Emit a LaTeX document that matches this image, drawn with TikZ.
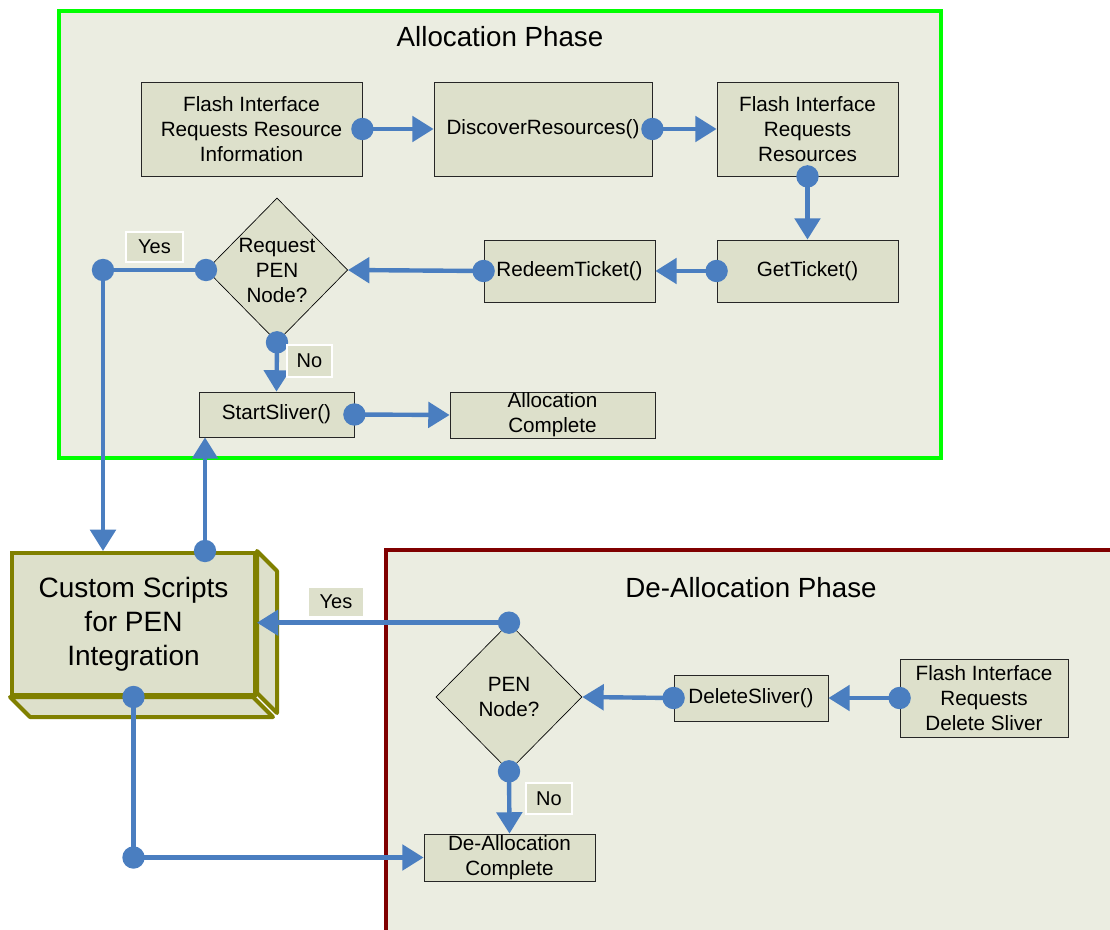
\documentclass[tikz,border=0pt]{standalone}
\usepackage{fontspec}
\setmainfont{Liberation Sans}
\usetikzlibrary{shapes.geometric,arrows.meta,calc}
\definecolor{linkblue}{RGB}{74,126,192}
\definecolor{panelfill}{RGB}{235,237,225}
\definecolor{boxfill}{RGB}{221,224,203}
\definecolor{greenedge}{RGB}{0,255,0}
\definecolor{rededge}{RGB}{128,0,0}
\definecolor{oliveedge}{RGB}{128,128,0}
\tikzset{
  boxnode/.style={draw=black!85, line width=0.6pt, fill=boxfill, align=center, inner sep=0pt,
    font=\fontsize{15.5}{18.75}\selectfont},
  diamnode/.style={diamond, draw=black, line width=0.5pt, fill=boxfill, align=center, inner sep=0pt,
    font=\fontsize{15.5}{18.75}\selectfont},
  lblnode/.style={fill=boxfill, draw=white, line width=0.8pt, inner sep=0pt,
    font=\fontsize{15}{18}\selectfont},
  conn/.style={draw=linkblue, line width=3.3pt, -{Triangle[length=16pt,width=19pt]}},
  plainconn/.style={draw=linkblue, line width=3.3pt},
  dotfill/.style={fill=linkblue},
  titlenode/.style={font=\fontsize{20.8}{24}\selectfont},
}
\begin{document}
\begin{tikzpicture}[x=0.75pt,y=-0.75pt]
\useasboundingbox[fill=white] (0,0) rectangle (1110,930);
\begin{scope}
\clip (0,0) rectangle (1110,930);
% panels
\draw[draw=greenedge, fill=panelfill, line width=3pt] (59,11) rectangle (941,458);
\draw[draw=rededge, fill=panelfill, line width=3pt] (386,550) rectangle (1125,945);
\end{scope}
\node[titlenode] (t1) at (500,37) {Allocation Phase};
\node[titlenode] (t2) at (751,588) {De-Allocation Phase};

% allocation nodes
\node[boxnode, minimum width=165.75pt, minimum height=70.5pt] (a1) at (251.5,129) {Flash Interface\\Requests Resource\\Information};
\node[boxnode, minimum width=163.5pt, minimum height=70.5pt] (a2) at (543,129) {DiscoverResources()};
\node[boxnode, minimum width=135.75pt, minimum height=70.5pt] (a3) at (807.5,129) {Flash Interface\\Requests\\Resources};
\node[boxnode, minimum width=135.75pt, minimum height=46.5pt] (a4) at (807.5,271) {GetTicket()};
\node[boxnode, minimum width=128.25pt, minimum height=46.5pt] (a5) at (569.5,271) {RedeemTicket()};
\node[diamnode, minimum width=105pt, minimum height=108pt] (d1) at (277,270) {Request\\PEN\\Node?};
\node[boxnode, minimum width=116.25pt, minimum height=33.75pt] (a6) at (276.5,414.5) {StartSliver()};
\node[boxnode, minimum width=153.75pt, minimum height=34.5pt] (a7) at (552.5,415) {Allocation\\Complete};

% custom scripts 3D box
\node[draw=oliveedge, line width=3pt, fill=boxfill, align=center, inner sep=0pt,
  minimum width=182.25pt, minimum height=106.5pt,
  font=\fontsize{21}{25.5}\selectfont] (cs) at (133.5,624) {Custom Scripts\\for PEN\\Integration};
\filldraw[draw=oliveedge, fill=boxfill, line width=3pt, line join=round]
  (cs.north east) -- ++(20,20) -- ++(0,142) -- ++(-20,-20) -- cycle;
\filldraw[draw=oliveedge, fill=boxfill, line width=3pt, line join=round]
  (cs.south west) -- ++(20,20) -- ++(243,0) -- ++(-20,-20) -- cycle;

% de-allocation nodes
\node[diamnode, minimum width=109.5pt, minimum height=111pt] (d2) at (509,697) {PEN\\Node?};
\node[boxnode, minimum width=115.5pt, minimum height=34.5pt] (b1) at (751,698) {DeleteSliver()};
\node[boxnode, minimum width=126pt, minimum height=58.5pt] (b2) at (984,698) {Flash Interface\\Requests\\Delete Sliver};
\node[boxnode, minimum width=128.25pt, minimum height=35.25pt] (b3) at (509.5,857.5) {De-Allocation\\Complete};

% helper coordinates
\coordinate (cy) at (103,270);
\coordinate (up) at (205,0);
\coordinate (cb) at (cs.south |- b3.west);

% connectors
\draw[conn] (a1.east) -- (a2.west);
\draw[conn] (a2.east) -- (a3.west);
\draw[conn] (a3.south) -- (a4.north);
\draw[conn] (a4.west) -- (a5.east);
\draw[conn] (a5.west) -- (d1.east);
\draw[conn] (d1.west) -- (cy) -- (cy |- cs.north);
\draw[conn] (d1.south) -- (a6.north);
\draw[conn] (a6.east) -- (a7.west);
\draw[conn] (up |- cs.north) -- (up |- a6.south);
\draw[conn] (d2.north) -- (d2.north -| cs.east);
\draw[conn] (b2.west) -- (b1.east);
\draw[conn] (b1.west) -- (d2.east);
\draw[conn] (d2.south) -- (b3.north);
\draw[plainconn] (cs.south) -- (cb);
\draw[conn] (cb) -- (b3.west);

% start dots
\foreach \p in {a1.east,a2.east,a3.south,a4.west,a5.west,d1.west,cy,d1.south,a6.east,d2.north,b2.west,b1.west,d2.south,cs.south,cb}
  \fill[dotfill] (\p) circle (8.4pt);
\fill[dotfill] (up |- cs.north) circle (8.4pt);

% labels
\node[lblnode, minimum width=42.75pt, minimum height=22.5pt] (ly1) at (154.5,247) {Yes};
\node[lblnode, minimum width=33.75pt, minimum height=24pt] (ln1) at (309.5,361) {No};
\node[lblnode, minimum width=42pt, minimum height=22.5pt] (ly2) at (336,602) {Yes};
\node[lblnode, minimum width=34.5pt, minimum height=23.25pt] (ln2) at (549,798.5) {No};
\end{tikzpicture}
\end{document}
